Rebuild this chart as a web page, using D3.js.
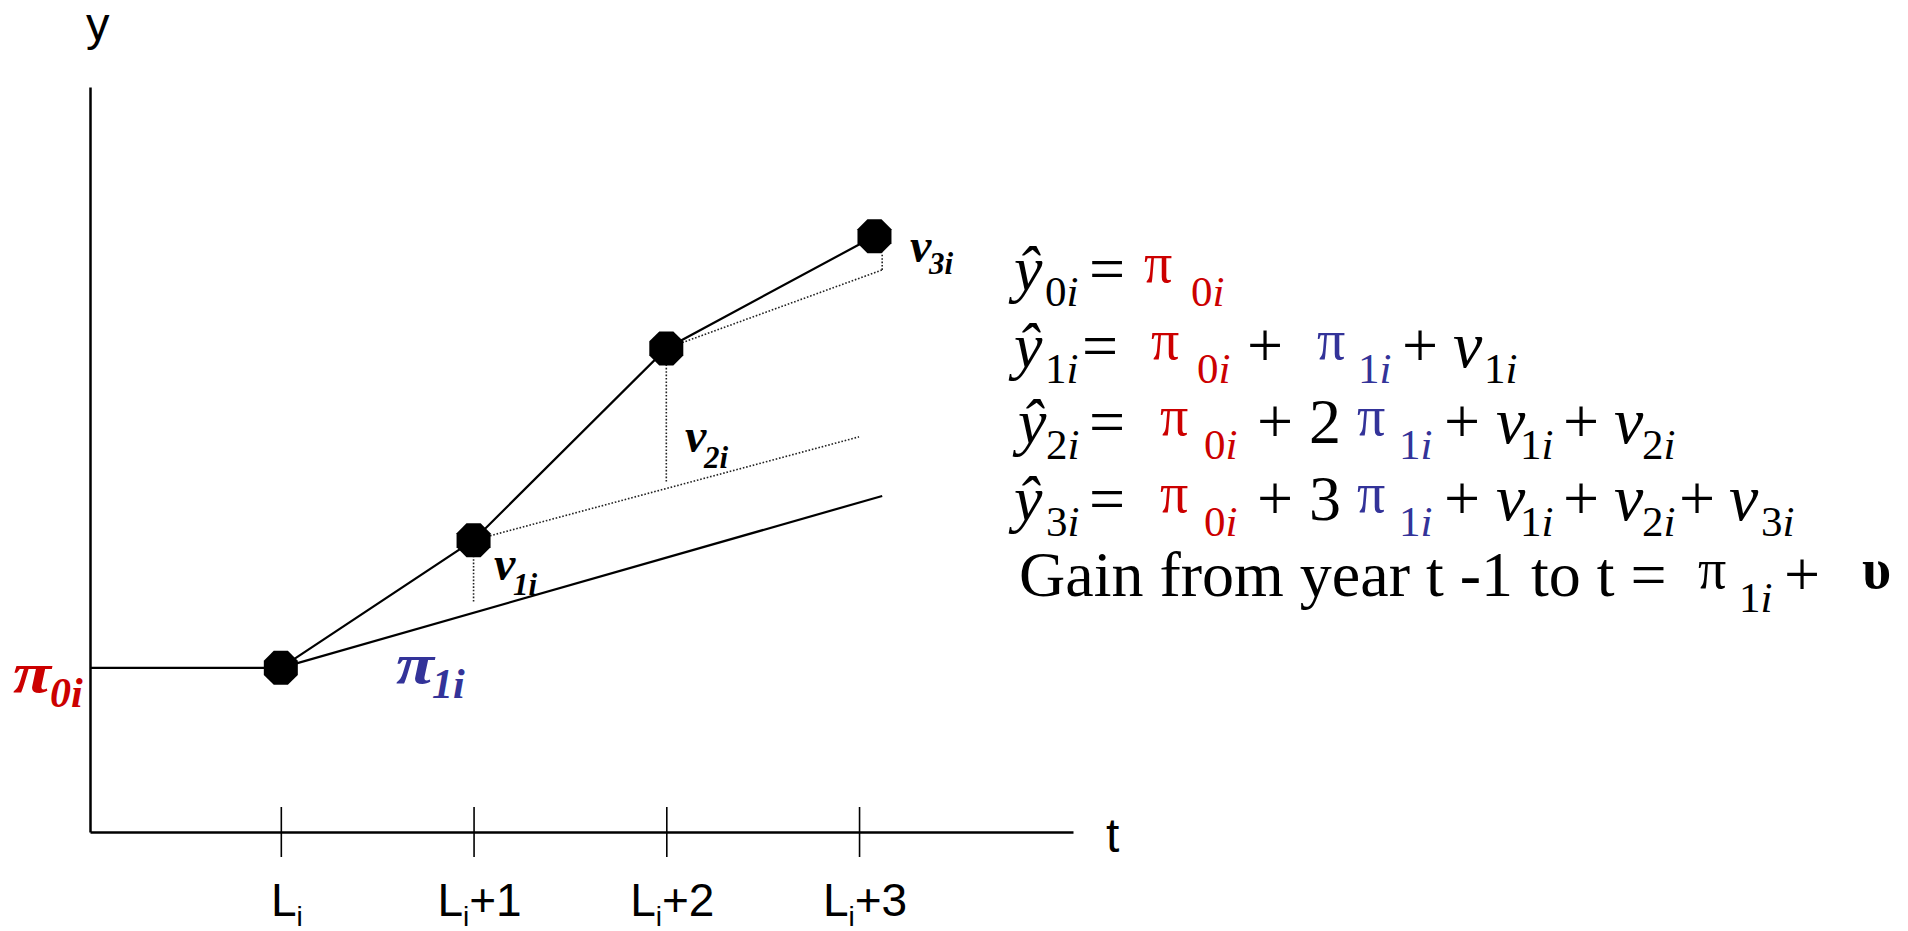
<!DOCTYPE html>
<html>
<head>
<meta charset="utf-8">
<script src="https://cdn.jsdelivr.net/npm/d3@7"></script>
<style>
  body { margin: 0; background: #fff; }
  svg { display: block; }
</style>
</head>
<body>
<svg id="chart" width="1908" height="931"></svg>
<script>
// Time axis: years since entry L_i
const tickValues = [0, 1, 2, 3];
const tickSuffix = ["", "+1", "+2", "+3"];

// Observed growth path (t, y)
const obsT = [0, 1, 2, 3.08];
const obsY = [2.97, 5.28, 8.75, 10.78];

// Linear growth trend pi_0i + pi_1i * t
const trendT = [0, 3.12];
const trendY = [2.97, 6.08];

// Projected paths after each shock (dotted)
const proj1T = [1, 3.0];
const proj1Y = [5.28, 7.15];
const proj2T = [2, 3.12];
const proj2Y = [8.75, 10.17];

// Shock segments v_1i, v_2i, v_3i (dotted verticals)
const shockT = [1, 2, 3.12];
const shockLo = [4.17, 6.34, 10.17];
const shockHi = [5.28, 8.75, 10.48];

const xDomain = [-0.99, 4.11];
const yDomain = [0, 13.48];

const RED = "#cc0000";
const BLUE = "#333399";
const SERIF = "'Liberation Serif', 'Times New Roman', serif";
const SANS = "'Liberation Sans', Arial, sans-serif";

const svg = d3.select("#chart");
const x = d3.scaleLinear().domain(xDomain).range([90, 1073]);
const y = d3.scaleLinear().domain(yDomain).range([832, 87]);

// Axes
svg.append("g")
  .attr("transform", `translate(0,${y(0)})`)
  .call(d3.axisBottom(x).tickValues(tickValues).tickSize(25).tickSizeOuter(0).tickFormat(""))
  .call(g => g.select(".domain").attr("stroke", "#000").attr("stroke-width", 2.5))
  .call(g => g.selectAll(".tick line").attr("y1", -25).attr("y2", 25).attr("stroke", "#000").attr("stroke-width", 1.6));

svg.append("g")
  .attr("transform", `translate(${x(xDomain[0])},0)`)
  .call(d3.axisLeft(y).tickValues([]).tickSizeOuter(0))
  .call(g => g.select(".domain").attr("stroke", "#000").attr("stroke-width", 2.5));

// Tick labels L_i, L_i+1, ...
const tl = svg.append("g").attr("font-family", SANS).attr("font-size", 46).attr("fill", "#000");
tickValues.forEach((t, i) => {
  const txt = tl.append("text").attr("x", x(t) + 6).attr("y", 916).attr("text-anchor", "middle");
  txt.append("tspan").text("L");
  txt.append("tspan").attr("font-size", 28).attr("dy", 10).text("i");
  if (tickSuffix[i]) txt.append("tspan").attr("dy", -10).text(tickSuffix[i]);
});

// Axis titles
svg.append("text").attr("x", 86).attr("y", 40).attr("font-family", SANS).attr("font-size", 47).text("y");
svg.append("text").attr("x", 1106).attr("y", 852).attr("font-family", SANS).attr("font-size", 48).text("t");

const line = d3.line().x(d => x(d[0])).y(d => y(d[1]));

// Intercept level up to entry point
svg.append("path")
  .attr("d", line([[xDomain[0], obsY[0]], [obsT[0], obsY[0]]]))
  .attr("fill", "none").attr("stroke", "#000").attr("stroke-width", 2.2);

// Trend line
svg.append("path")
  .attr("d", line(d3.zip(trendT, trendY)))
  .attr("fill", "none").attr("stroke", "#000").attr("stroke-width", 2.2);

// Dotted projections
[[proj1T, proj1Y], [proj2T, proj2Y]].forEach(([ts, ys]) => {
  svg.append("path")
    .attr("d", line(d3.zip(ts, ys)))
    .attr("fill", "none").attr("stroke", "#222").attr("stroke-width", 1.6)
    .attr("stroke-dasharray", "1.6,1.8");
});
shockT.forEach((t, i) => {
  svg.append("path")
    .attr("d", line([[t, shockLo[i]], [t, shockHi[i]]]))
    .attr("fill", "none").attr("stroke", "#222").attr("stroke-width", 1.6)
    .attr("stroke-dasharray", "1.6,1.8");
});

// Observed path
svg.append("path")
  .attr("d", line(d3.zip(obsT, obsY)))
  .attr("fill", "none").attr("stroke", "#000").attr("stroke-width", 2.2);

// Octagon markers
const apothem = 17;
const R = apothem / Math.cos(Math.PI / 8);
const octagon = d3.line().curve(d3.curveLinearClosed)(
  d3.range(8).map(k => {
    const a = Math.PI / 8 + k * Math.PI / 4;
    return [R * Math.cos(a), R * Math.sin(a)];
  })
);
svg.append("g").selectAll("path")
  .data(d3.zip(obsT, obsY))
  .join("path")
  .attr("d", octagon)
  .attr("transform", d => `translate(${x(d[0])},${y(d[1])})`)
  .attr("fill", "#000");

// Symbol labels on the chart
function symLabel(main, sub, xm, ym, xs, ys, color, mainSize, subSize, mainWidth) {
  const g = svg.append("g").attr("font-family", SERIF).attr("font-weight", "bold")
    .attr("font-style", "italic").attr("fill", color);
  const m = g.append("text").attr("x", xm).attr("y", ym).attr("font-size", mainSize).text(main);
  if (mainWidth) m.attr("textLength", mainWidth).attr("lengthAdjust", "spacingAndGlyphs");
  g.append("text").attr("x", xs).attr("y", ys).attr("font-size", subSize).text(sub);
}
symLabel("\u03c0", "0i", 13, 692, 50, 707, RED, 58, 42, 38);
symLabel("\u03c0", "1i", 396, 683, 432, 698, BLUE, 58, 42, 38);
symLabel("v", "1i", 494, 580, 513, 595, "#000", 48, 31);
symLabel("v", "2i", 685, 452, 704, 468, "#000", 48, 31);
symLabel("v", "3i", 910, 262, 929, 274, "#000", 48, 31);

// Equations
const MAIN = 64, SUB = 43, PI = 56;
const eqLines = [
  { base: 290, toks: [
    ["yhat", 1014], ["s", 1045, "0i"], ["m", 1089, "="], ["p", 1144, RED], ["s", 1191, "0i", RED]
  ]},
  { base: 367, toks: [
    ["yhat", 1014], ["s", 1045, "1i"], ["m", 1082, "="], ["p", 1151, RED], ["s", 1197, "0i", RED],
    ["m", 1247, "+"], ["p", 1317, BLUE], ["s", 1358, "1i", BLUE], ["m", 1402, "+"],
    ["v", 1453], ["s", 1484, "1i"]
  ]},
  { base: 443, toks: [
    ["yhat", 1018], ["s", 1046, "2i"], ["m", 1089, "="], ["p", 1160, RED], ["s", 1204, "0i", RED],
    ["m", 1257, "+"], ["m", 1309, "2"], ["p", 1357, BLUE], ["s", 1399, "1i", BLUE], ["m", 1444, "+"],
    ["v", 1496], ["s", 1520, "1i"], ["m", 1563, "+"], ["v", 1614], ["s", 1642, "2i"]
  ]},
  { base: 520, toks: [
    ["yhat", 1014], ["s", 1046, "3i"], ["m", 1089, "="], ["p", 1160, RED], ["s", 1204, "0i", RED],
    ["m", 1257, "+"], ["m", 1309, "3"], ["p", 1357, BLUE], ["s", 1399, "1i", BLUE], ["m", 1444, "+"],
    ["v", 1496], ["s", 1520, "1i"], ["m", 1563, "+"], ["v", 1614], ["s", 1642, "2i"],
    ["m", 1679, "+"], ["v", 1729], ["s", 1761, "3i"]
  ]},
  { base: 596, toks: [
    ["m", 1019, "Gain from year t -1"], ["m", 1531, "to t ="], ["p", 1698, "#000"],
    ["s", 1739, "1i"], ["m", 1784, "+"], ["u", 1862]
  ]}
];

const eq = svg.append("g").attr("font-family", SERIF).attr("fill", "#000");
eqLines.forEach(ln => {
  ln.toks.forEach(tk => {
    const [kind, xx] = tk;
    if (kind === "yhat") {
      eq.append("text").attr("x", xx).attr("y", ln.base).attr("font-size", MAIN)
        .attr("font-style", "italic").text("\u0177");
    } else if (kind === "m") {
      eq.append("text").attr("x", xx).attr("y", ln.base).attr("font-size", MAIN).text(tk[2]);
    } else if (kind === "v") {
      eq.append("text").attr("x", xx).attr("y", ln.base).attr("font-size", MAIN + 2)
        .attr("font-style", "italic").text("v");
    } else if (kind === "p") {
      eq.append("text").attr("x", xx).attr("y", ln.base - 8).attr("font-size", PI)
        .attr("fill", tk[2]).text("\u03c0");
    } else if (kind === "u") {
      eq.append("text").attr("x", xx).attr("y", ln.base - 8).attr("font-size", PI)
        .attr("font-weight", "bold").text("\u03c5");
    } else if (kind === "s") {
      const s = tk[2];
      const t = eq.append("text").attr("x", xx).attr("y", ln.base + 16).attr("font-size", SUB)
        .attr("fill", tk[3] || "#000");
      t.append("tspan").text(s.slice(0, -1));
      t.append("tspan").attr("font-style", "italic").text(s.slice(-1));
    }
  });
});
</script>
</body>
</html>
